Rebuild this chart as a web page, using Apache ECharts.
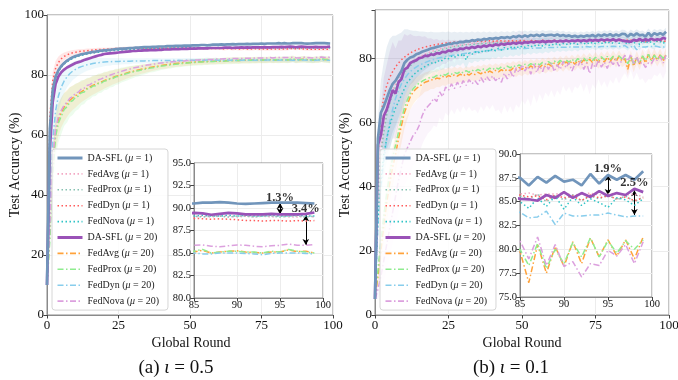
<!DOCTYPE html>
<html><head><meta charset="utf-8">
<script src="https://cdn.jsdelivr.net/npm/echarts@6/dist/echarts.min.js"></script>
<style>html,body{margin:0;padding:0;background:#fff}#c{width:678px;height:380px}</style>
</head><body><div id="c"></div>
<script>
// ---------- categories / labels ----------
const rounds = []; for (let i = 0; i < 100; i++) rounds.push(i);
const names = ['DA-SFL (μ = 1)','FedAvg (μ = 1)','FedProx (μ = 1)','FedDyn (μ = 1)','FedNova (μ = 1)',
               'DA-SFL (μ = 20)','FedAvg (μ = 20)','FedProx (μ = 20)','FedDyn (μ = 20)','FedNova (μ = 20)'];
const mainXTicks = [0, 25, 50, 75, 100];
const insetXTicks = [85, 90, 95, 100];
const captions = ['(a) ', ' = 0.5', '(b) ', ' = 0.1'];

// ---------- (a) iota = 0.5 ----------
const L_DA1 = [10,62,75,79.5,81.6,83.0,84.0,84.8,85.4,85.9,
86.3,86.6,86.9,87.1,87.3,87.5,87.7,87.8,88.0,88.1,
88.2,88.3,88.4,88.5,88.6,88.7,88.8,88.8,88.9,89.0,
89.0,89.1,89.1,89.2,89.3,89.3,89.3,89.4,89.4,89.5,
89.5,89.5,89.6,89.6,89.6,89.7,89.7,89.7,89.8,89.8,
89.8,89.9,89.9,89.9,90.0,90.0,89.9,90.0,90.1,90.1,
90.1,90.2,90.1,90.2,90.2,90.3,90.2,90.3,90.3,90.3,
90.4,90.3,90.4,90.4,90.4,90.5,90.4,90.5,90.5,90.5,
90.5,90.6,90.5,90.6,90.5,90.5,90.6,90.6,90.65,90.6,
90.5,90.45,90.5,90.55,90.6,90.6,90.6,90.6,90.55,90.5];
const L_Avg1 = [10,60,74,79,81.3,82.7,83.7,84.5,85.1,85.6,
86.0,86.3,86.6,86.8,87.0,87.2,87.4,87.5,87.7,87.8,
87.9,88.0,88.1,88.2,88.3,88.3,88.4,88.4,88.5,88.5,
88.6,88.6,88.6,88.7,88.7,88.7,88.8,88.8,88.8,88.8,
88.9,88.9,88.9,88.9,88.9,89.0,88.9,89.0,89.0,89.0,
89.0,89.0,89.1,89.0,89.0,89.1,89.0,89.1,89.1,89.0,
89.1,89.0,89.1,89.1,89.0,89.1,89.1,89.0,89.1,89.1,
89.1,89.0,89.1,89.1,89.1,89.0,89.1,89.1,89.0,89.1,
89.1,89.1,89.0,89.1,89.1,89.0,89.1,89.0,89.1,89.1,
89.0,89.1,89.0,89.1,89.0,89.1,89.0,89.0,89.1,89.0];
const L_Prox1 = [10,61,74.5,79.2,81.4,82.8,83.8,84.6,85.2,85.7,
86.1,86.4,86.7,86.9,87.1,87.3,87.4,87.6,87.7,87.9,
88.0,88.1,88.2,88.2,88.3,88.4,88.4,88.5,88.5,88.6,
88.6,88.7,88.7,88.7,88.8,88.8,88.8,88.9,88.9,88.9,
88.9,88.9,89.0,88.9,89.0,89.0,89.0,89.0,89.1,89.0,
89.1,89.0,89.1,89.1,89.0,89.1,89.1,89.1,89.0,89.1,
89.1,89.1,89.0,89.1,89.2,89.1,89.1,89.1,89.2,89.1,
89.1,89.2,89.1,89.1,89.2,89.1,89.1,89.2,89.1,89.1,
89.2,89.1,89.1,89.2,89.1,89.1,89.0,89.1,89.1,89.0,
89.1,89.1,89.0,89.1,89.1,89.0,89.1,89.1,89.0,89.1];
const L_Dyn1 = [10,66,78,82.2,84.2,85.4,86.2,86.7,87.1,87.4,
87.6,87.8,87.9,88.0,88.1,88.2,88.3,88.4,88.5,88.5,
88.6,88.6,88.7,88.7,88.8,88.8,88.8,88.9,88.9,88.9,
88.9,89.0,88.9,89.0,88.9,89.0,88.9,88.9,89.0,88.9,
88.9,88.9,88.9,89.0,88.9,88.9,88.8,88.9,88.9,88.8,
88.9,88.8,88.8,88.9,88.8,88.8,88.8,88.9,88.8,88.8,
88.8,88.8,88.7,88.8,88.8,88.7,88.8,88.7,88.7,88.8,
88.7,88.7,88.7,88.8,88.7,88.7,88.7,88.6,88.7,88.7,
88.7,88.7,88.6,88.7,88.7,88.85,88.8,88.75,88.8,88.75,
88.7,88.6,88.6,88.55,88.6,88.6,88.55,88.6,88.55,88.6];
const L_Nova1 = [10,59,73.5,78.8,81.1,82.6,83.6,84.4,85.0,85.5,
85.9,86.3,86.5,86.8,87.0,87.2,87.3,87.5,87.6,87.8,
87.9,88.0,88.1,88.2,88.2,88.3,88.4,88.4,88.5,88.5,
88.6,88.6,88.7,88.7,88.7,88.8,88.8,88.8,88.9,88.9,
88.9,88.9,88.9,89.0,89.0,89.0,89.0,89.0,89.1,89.0,
89.1,89.1,89.0,89.1,89.1,89.1,89.1,89.2,89.1,89.1,
89.2,89.1,89.1,89.2,89.1,89.2,89.2,89.1,89.2,89.2,
89.1,89.2,89.2,89.2,89.1,89.2,89.2,89.2,89.1,89.2,
89.2,89.2,89.1,89.2,89.2,89.1,89.2,89.1,89.1,89.2,
89.1,89.2,89.1,89.1,89.2,89.1,89.1,89.2,89.1,89.1];
const L_DA20 = [10,55,71,77,79.5,80.9,81.8,82.5,83.0,83.5,
84.0,84.3,84.6,85.0,85.3,85.6,85.9,86.2,86.5,86.7,
87.0,87.1,87.2,87.3,87.4,87.5,87.6,87.7,87.8,87.9,
88.0,88.0,88.1,88.1,88.2,88.2,88.3,88.3,88.3,88.4,
88.4,88.5,88.5,88.5,88.6,88.6,88.6,88.7,88.7,88.7,
88.8,88.8,88.8,88.9,88.9,88.9,88.9,89.0,89.0,89.0,
89.0,89.0,89.1,89.1,89.1,89.0,89.1,89.1,89.2,89.1,
89.2,89.1,89.2,89.2,89.2,89.2,89.3,89.2,89.2,89.3,
89.3,89.3,89.4,89.3,89.4,89.45,89.4,89.25,89.35,89.45,
89.4,89.3,89.3,89.3,89.35,89.3,89.3,89.3,89.35,89.5];
const L_Avg20 = [10,28,50,61,65.2,67.6,69.3,70.5,71.6,72.4,
73.1,73.8,74.4,75.0,75.5,76.0,76.5,76.9,77.3,77.7,
78.1,78.5,78.8,79.2,79.5,79.8,80.1,80.4,80.7,81.0,
81.2,81.5,81.7,81.9,82.1,82.3,82.5,82.7,82.9,83.0,
83.2,83.3,83.4,83.6,83.7,83.8,83.9,84.0,84.1,84.1,
84.2,84.3,84.3,84.4,84.4,84.5,84.5,84.6,84.6,84.6,
84.7,84.7,84.7,84.8,84.8,84.8,84.9,84.8,84.9,84.9,
84.9,84.9,85.0,84.9,85.0,85.0,85.0,85.0,85.1,85.0,
85.0,85.1,85.0,85.1,85.1,85.1,85.3,85.0,85.1,85.2,
85.25,85.1,85.05,85.0,85.1,85.1,85.35,85.15,85.2,85.0];
const L_Prox20 = [10,25,47,59.5,64.0,66.3,68.5,69.4,71.0,71.5,
72.6,73.0,74.1,74.3,75.3,75.5,76.3,76.4,77.2,77.3,
78.0,78.1,78.7,78.8,79.4,79.5,80.0,80.2,80.5,80.8,
81.0,81.3,81.4,81.7,81.9,82.0,82.3,82.4,82.6,82.8,
83.0,83.1,83.3,83.3,83.5,83.6,83.7,83.8,83.9,84.0,
84.1,84.1,84.2,84.3,84.3,84.4,84.4,84.5,84.5,84.6,
84.6,84.6,84.7,84.7,84.7,84.8,84.8,84.8,84.9,84.9,
84.9,84.9,84.9,85.0,85.0,85.0,85.0,85.0,85.1,85.0,
85.1,85.0,85.1,85.1,85.0,85.2,85.4,85.0,85.1,85.2,
85.2,85.1,85.1,85.0,85.2,85.1,85.4,85.2,85.1,85.0];
const L_Dyn20 = [10,35,58,68,73,76,78,79.4,80.5,81.3,
81.9,82.4,82.8,83.1,83.4,83.6,83.8,84.0,84.1,84.2,
84.3,84.4,84.4,84.5,84.5,84.5,84.6,84.6,84.6,84.6,
84.7,84.7,84.7,84.7,84.7,84.8,84.7,84.8,84.8,84.8,
84.8,84.8,84.8,84.8,84.9,84.8,84.9,84.8,84.9,84.9,
84.9,84.9,84.9,84.9,84.9,84.9,85.0,84.9,84.9,85.0,
84.9,85.0,84.9,85.0,84.9,85.0,84.9,85.0,84.9,85.0,
85.0,84.9,85.0,84.9,85.0,85.0,84.9,85.0,85.0,84.9,
85.0,84.9,85.0,85.0,84.9,85.0,84.9,84.9,85.0,85.0,
85.0,84.95,84.9,84.8,84.95,85.0,85.0,85.0,84.95,84.9];
const L_Nova20 = [10,30,52,62,66.3,68.2,70.0,70.9,72.3,72.8,
74.0,74.3,75.3,75.6,76.5,76.8,77.4,77.8,78.4,78.7,
79.2,79.5,79.9,80.3,80.6,80.9,81.2,81.5,81.8,82.0,
82.3,82.5,82.7,82.9,83.1,83.3,83.4,83.6,83.7,83.9,
84.0,84.1,84.2,84.3,84.4,84.5,84.6,84.6,84.7,84.8,
84.8,84.9,85.0,85.0,85.1,85.1,85.2,85.2,85.2,85.3,
85.3,85.3,85.4,85.4,85.4,85.5,85.5,85.5,85.5,85.6,
85.6,85.6,85.6,85.7,85.7,85.7,85.7,85.7,85.8,85.7,
85.8,85.8,85.8,85.8,85.8,85.85,85.9,85.75,85.7,85.8,
85.9,85.85,85.75,85.7,85.8,85.85,86.0,85.85,85.85,85.95];
// std bands (a)
const L_std_Prox20 = [0,5,7,7,6.5,6,5.5,5.2,5,4.8,
4.6,4.4,4.2,4,3.8,3.6,3.5,3.4,3.3,3.2,
3.1,3,2.9,2.8,2.7,2.6,2.5,2.4,2.3,2.2,
2.1,2,1.9,1.8,1.7,1.6,1.5,1.5,1.4,1.4,
1.3,1.3,1.2,1.2,1.2,1.1,1.1,1.1,1.1,1.1,
1.1,1.1,1.1,1.1,1.1,1.1,1.1,1.1,1.1,1.1,
1.1,1.1,1.1,1.1,1.1,1.1,1.1,1.1,1.1,1.1,
1.1,1.1,1.1,1.1,1.1,1.1,1.1,1.1,1.1,1.1,
1.1,1.1,1.1,1.1,1.1,1.1,1.1,1.1,1.1,1.1,
1.1,1.1,1.1,1.1,1.1,1.1,1.1,1.1,1.1,1.1];
const L_std_Avg20 = [0,4,6,6,5.5,5,4.8,4.5,4.3,4.1,
3.9,3.7,3.5,3.4,3.3,3.2,3.1,3,2.9,2.8,
2.7,2.6,2.5,2.4,2.3,2.2,2.1,2,1.9,1.8,
1.7,1.6,1.6,1.5,1.5,1.4,1.4,1.3,1.3,1.2,
1.2,1.2,1.2,1.1,1.1,1.1,1.1,1.1,1.1,1.0,
1.0,1.0,1.0,1.0,1.0,1.0,1.0,1.0,1.0,1.0,
1.0,1.0,1.0,1.0,1.0,1.0,1.0,1.0,1.0,1.0,
1.0,1.0,1.0,1.0,1.0,1.0,1.0,1.0,1.0,1.0,
1.0,1.0,1.0,1.0,1.0,1.0,1.0,1.0,1.0,1.0,
1.0,1.0,1.0,1.0,1.0,1.0,1.0,1.0,1.0,1.0];
const L_std_Dyn1 = [0,4,3,2.5,2,1.6,1.3,1.1,1,0.9,
0.8,0.8,0.7,0.7,0.7,0.6,0.6,0.6,0.6,0.6,
0.5,0.5,0.5,0.5,0.5,0.5,0.5,0.5,0.5,0.5,
0.5,0.5,0.5,0.5,0.5,0.5,0.5,0.5,0.5,0.5,
0.5,0.5,0.5,0.5,0.5,0.5,0.5,0.5,0.5,0.5,
0.5,0.5,0.5,0.5,0.5,0.5,0.5,0.5,0.5,0.5,
0.5,0.5,0.5,0.5,0.5,0.5,0.5,0.5,0.5,0.5,
0.5,0.5,0.5,0.5,0.5,0.5,0.5,0.5,0.5,0.5,
0.5,0.5,0.5,0.5,0.5,0.5,0.5,0.5,0.5,0.5,
0.5,0.5,0.5,0.5,0.5,0.5,0.5,0.5,0.5,0.5];
const L_std_Dyn20 = [0,8,7,6,5,4.5,4,3.6,3.3,3,
2.8,2.6,2.4,2.2,2,1.9,1.8,1.7,1.6,1.5,
1.4,1.3,1.3,1.2,1.2,1.1,1.1,1,1,1,
0.9,0.9,0.9,0.9,0.9,0.9,0.9,0.9,0.9,0.9,
0.8,0.8,0.8,0.8,0.8,0.8,0.8,0.8,0.8,0.8,
0.8,0.8,0.8,0.8,0.8,0.8,0.8,0.8,0.8,0.8,
0.7,0.7,0.7,0.7,0.7,0.7,0.7,0.7,0.7,0.7,
0.7,0.7,0.7,0.7,0.7,0.7,0.7,0.7,0.7,0.7,
0.7,0.7,0.7,0.7,0.7,0.7,0.7,0.7,0.7,0.7,
0.7,0.7,0.7,0.7,0.7,0.7,0.7,0.7,0.7,0.7];

// ---------- (b) iota = 0.1 ----------
const R_DA1 = [5,55,63,65,67.5,70,72,73,74.5,76,
78.5,79.5,80.2,80.5,81.2,81.5,82.0,82.3,82.6,83.0,
83.2,83.5,83.7,84.0,84.1,84.5,84.4,84.8,84.7,85.1,
85.0,85.3,85.2,85.6,85.4,85.8,85.6,86.0,85.8,86.2,
86.0,86.3,86.1,86.5,86.3,86.6,86.3,86.8,86.5,87.0,
86.6,87.1,86.7,87.2,86.9,87.3,86.9,87.4,87.0,87.2,
87.3,87.0,87.4,86.9,87.2,86.8,87.1,86.7,87.0,86.6,
87.0,86.7,87.1,86.8,87.2,86.7,87.3,86.9,87.4,87.0,
87.5,86.9,87.4,87.0,87.6,87.5,86.7,87.6,87.0,87.7,
87.1,87.3,86.7,87.9,86.9,87.8,87.3,87.8,87.3,88.2];
const R_Avg1 = [5,40,52,59,64,67.5,70,72,73.8,75.2,
76.4,77.4,78.3,79.0,79.7,80.3,80.8,81.2,81.6,82.0,
82.3,82.6,82.9,83.1,83.3,83.5,83.7,83.8,84.0,84.1,
84.2,84.4,84.3,84.6,84.5,84.7,84.6,84.9,84.7,85.0,
84.8,85.1,84.9,85.2,85.0,85.2,85.0,85.3,85.1,85.3,
85.1,85.4,85.2,85.4,85.2,85.5,85.3,85.5,85.3,85.6,
85.3,85.6,85.4,85.6,85.4,85.7,85.4,85.7,85.5,85.7,
85.5,85.8,85.5,85.8,85.5,85.8,85.6,85.8,85.6,85.9,
85.6,85.9,85.6,85.9,85.7,85.8,85.9,85.7,85.8,85.8,
85.9,85.7,85.8,85.9,85.7,85.8,85.9,85.7,85.8,85.5];
const R_Prox1 = [5,38,50,57,62.5,66,68.8,71,72.8,74.3,
75.6,76.7,77.6,78.4,79.1,79.7,80.3,80.7,81.2,81.6,
81.9,82.2,82.5,82.8,83.0,83.2,83.4,83.6,83.7,83.9,
84.0,84.2,84.1,84.4,84.3,84.5,84.4,84.7,84.5,84.8,
84.6,84.9,84.7,85.0,84.8,85.0,84.9,85.1,84.9,85.2,
85.0,85.2,85.0,85.3,85.1,85.3,85.1,85.4,85.2,85.4,
85.2,85.4,85.2,85.5,85.3,85.5,85.3,85.5,85.3,85.6,
85.3,85.6,85.4,85.6,85.4,85.7,85.4,85.7,85.5,85.7,
85.5,85.7,85.5,85.8,85.5,85.6,85.3,85.8,85.0,85.6,
85.2,85.7,85.1,85.6,85.3,85.7,85.2,85.6,85.0,85.5];
const R_Dyn1 = [5,50,62,68,71.5,74,75.8,77.3,78.5,79.5,
80.3,81.0,81.6,82.1,82.5,82.9,83.2,83.5,83.7,83.9,
84.1,84.3,84.4,84.6,84.7,84.8,84.9,85.0,85.0,85.1,
85.1,85.2,85.0,85.3,85.1,85.3,85.1,85.4,85.2,85.4,
85.2,85.5,85.2,85.4,85.3,85.5,85.2,85.5,85.3,85.6,
85.3,85.5,85.2,85.6,85.3,85.5,85.2,85.6,85.3,85.5,
85.4,85.6,85.3,85.5,85.2,85.6,85.3,85.5,85.4,85.6,
85.3,85.5,85.2,85.6,85.3,85.5,85.3,85.6,85.2,85.5,
85.3,85.6,85.4,85.5,85.3,85.7,85.5,85.6,85.2,85.7,
85.4,85.6,85.1,85.7,85.4,85.6,85.3,85.5,85.1,85.4];
const R_Nova1 = [5,30,42,50,55,59,62,64.5,66.5,68.5,
70.5,72.5,73.5,74.8,75.5,76.3,76.8,77.4,77.9,78.3,
78.8,78.5,79.5,79.2,80.1,79.8,80.6,80.2,81.0,80.6,
81.4,79.5,81.6,81.2,82.0,81.5,82.3,81.8,82.6,82.1,
82.9,82.3,83.1,82.5,83.3,82.8,83.5,83.0,83.7,83.2,
83.8,83.4,84.0,83.5,84.1,83.7,84.2,83.8,84.4,83.9,
84.4,84.0,84.6,84.1,84.6,84.2,84.7,84.3,84.8,84.3,
84.8,84.4,84.9,84.4,85.0,84.5,85.0,84.5,85.1,84.6,
85.1,84.6,85.2,84.6,85.2,85.0,84.3,85.4,84.5,85.6,
84.2,85.5,84.6,85.3,84.9,84.4,85.4,85.2,84.6,85.3];
const R_DA20 = [5,53,56,62,64,67,70,69,72.5,73.5,
76.5,77.0,78.5,79.0,79.3,80.0,80.2,80.8,80.6,81.2,
81.0,81.6,81.4,82.0,81.8,82.4,82.2,82.7,82.5,83.0,
82.8,83.3,83.0,83.5,83.2,83.7,83.4,83.9,83.6,84.1,
83.8,84.3,84.0,84.5,84.2,84.6,84.4,84.8,84.5,84.9,
84.6,85.0,84.8,85.1,84.9,85.2,85.0,85.3,85.0,85.3,
85.1,85.4,85.1,85.4,85.2,85.5,85.2,85.5,85.3,85.6,
85.3,85.6,85.3,85.7,85.4,85.7,85.4,85.8,85.5,85.8,
85.5,85.9,85.4,85.8,85.5,85.3,85.25,85.1,85.7,85.4,
86.0,85.4,85.9,85.5,86.1,85.6,85.9,85.7,86.35,86.0];
const R_Avg20 = [5,12,20,28,35,41,46,50,55,59,
63,65.5,68,69.5,70.5,71.2,71.8,72.5,72.8,73.3,
73.2,73.8,73.6,74.3,73.9,74.6,74.2,74.8,74.4,75.0,
74.4,75.2,74.7,75.4,74.9,75.6,75.1,75.8,75.3,76.0,
75.5,76.2,75.7,76.4,75.9,76.6,76.1,76.9,76.3,77.1,
76.5,77.3,76.7,77.6,76.9,77.8,77.1,78.0,77.3,78.2,
77.5,78.5,77.6,78.7,77.8,78.9,78.0,79.1,78.1,79.3,
78.3,79.5,78.4,79.7,78.6,79.9,78.7,80.1,78.8,80.3,
78.9,80.5,79.0,80.6,79.1,79.8,76.5,80.5,77.5,80.3,
78.2,80.8,78.5,81.2,79.2,81.0,79.3,81.0,79.0,81.3];
const R_Prox20 = [5,14,23,31,38,44,49,53,57,61,
64.5,67,69,70.5,71.5,72.2,72.8,73.3,73.7,74.1,
74.0,74.6,74.4,75.0,74.7,75.3,75.0,75.6,75.2,75.9,
75.4,76.1,75.6,76.3,75.8,76.5,76.0,76.7,76.2,76.9,
76.4,77.1,76.6,77.3,76.8,77.5,77.0,77.7,77.2,77.9,
77.4,78.1,77.6,78.3,77.8,78.5,77.9,78.7,78.1,78.9,
78.2,79.1,78.4,79.3,78.5,79.5,78.7,79.7,78.8,79.9,
79.0,80.0,79.1,80.2,79.3,80.3,79.4,80.4,79.5,80.5,
79.6,80.6,79.7,80.7,79.8,80.0,78.3,80.6,78.0,80.0,
78.5,80.7,79.2,81.2,79.2,80.9,79.6,80.9,80.0,81.0];
const R_Dyn20 = [5,28,40,48,55,60,64,67.5,70,72,
73.5,74.8,75.8,76.6,77.2,77.8,78.2,78.6,79.0,79.3,
79.6,79.9,80.1,80.3,80.5,80.7,80.8,81.0,81.1,81.3,
81.4,81.5,81.6,81.7,81.9,82.0,82.1,82.2,82.3,82.4,
82.5,82.5,82.6,82.7,82.7,82.8,82.8,82.9,82.9,83.0,
83.0,83.0,83.1,83.1,83.1,83.2,83.2,83.2,83.3,83.3,
83.3,83.3,83.4,83.4,83.4,83.4,83.5,83.4,83.5,83.5,
83.5,83.5,83.6,83.5,83.6,83.6,83.5,83.6,83.6,83.6,
83.6,83.7,83.6,83.6,83.7,83.9,83.3,83.4,84.0,82.6,
83.8,83.5,83.5,83.6,83.6,83.8,83.6,83.4,83.5,83.5];
const R_Nova20 = [5,8,12,17,22,27,32,37,42,46,
50,52,54,56,57,59,62,64,65,66,
67.5,66.5,69.5,68,71,70,72,70.5,72.5,71,
73,71.5,73.3,72,73,71.8,74,72.5,74.3,73,
74.5,73,74,72.5,75.3,73.5,76,74,77,75.5,
78,76,77.5,75,78.2,75.5,77.8,75.8,78.3,76.5,
78.5,75.8,78,76.5,79,77,78.6,76,78.2,77.5,
79.2,76.5,78.5,75.2,78.4,77,79.4,77.2,78.8,76.8,
79.3,78.0,79.6,77.5,79.5,80.9,79.0,81.3,78.3,80.5,
78.2,78.7,77.1,78.5,78.3,79.9,79.3,80.5,78.5,80.8];
// std bands (b)
const R_std_DA1 = [0,6,10,14,16,16,15,14,13,12,
10.5,9.5,8.5,8,7.3,6.8,6.3,5.9,5.5,5.2,
4.9,4.6,4.4,4.2,4,3.8,3.6,3.4,3.3,3.1,
3,2.9,2.8,2.7,2.6,2.5,2.4,2.3,2.2,2.1,
2,2,1.9,1.9,1.8,1.8,1.7,1.7,1.6,1.6,
1.6,1.5,1.5,1.5,1.5,1.4,1.4,1.4,1.4,1.4,
1.4,1.3,1.3,1.3,1.3,1.3,1.3,1.3,1.3,1.3,
1.3,1.3,1.3,1.3,1.3,1.3,1.3,1.3,1.3,1.3,
1.3,1.3,1.3,1.3,1.3,1.3,1.3,1.3,1.3,1.3,
1.3,1.3,1.3,1.3,1.3,1.3,1.3,1.3,1.3,1.3];
const R_std_DA20 = [0,5,8,12,14,15,15,14,13,12,
11,10,9,8,7.5,7,6.5,6,5.5,5,
4.7,4.4,4.1,3.8,3.6,3.4,3.2,3,2.9,2.8,
2.7,2.6,2.5,2.4,2.3,2.2,2.1,2,2,1.9,
1.9,1.8,1.8,1.7,1.7,1.6,1.6,1.5,1.5,1.5,
1.4,1.4,1.4,1.4,1.4,1.3,1.3,1.3,1.3,1.3,
1.3,1.3,1.3,1.2,1.2,1.2,1.2,1.2,1.2,1.2,
1.2,1.2,1.2,1.2,1.2,1.2,1.2,1.2,1.2,1.2,
1.2,1.2,1.2,1.2,1.2,1.2,1.2,1.2,1.2,1.2,
1.2,1.2,1.2,1.2,1.2,1.2,1.2,1.2,1.2,1.2];
const R_std_Nova20 = [0,3,5,7,8,9,10,10,10,10,
10,10,10,9.5,9.5,9,9,9,8.5,8.5,
8.5,8,8,8,8,8,8,8,8,8,
8,8,8.5,8.5,9,9,9,9,9,9,
9,9.5,10,10,10,10.5,11,11,11.5,11,
11,10.5,10,10,9.5,9.5,9,9,9,8.5,
8.5,8,8,8,7.5,7.5,7.5,7,7,7,
7,7,6.5,6.5,6.5,6.5,6,6,6,6,
6,6,5.5,5.5,5.5,5.5,5.5,5,5,5,
5,5,5,5,5,5,5,5,5,5];
const R_std_Avg20 = [0,3,4,5,6,6,6,6,5.5,5.5,
5,4.5,4,3.8,3.6,3.4,3.2,3,3,2.9,
2.8,2.8,2.7,2.7,2.6,2.6,2.5,2.5,2.4,2.4,
2.3,2.3,2.3,2.3,2.3,2.3,2.3,2.3,2.3,2.3,
2.2,2.2,2.2,2.2,2.2,2.2,2.2,2.2,2.2,2.2,
2.1,2.1,2.1,2.1,2.1,2.1,2.1,2.1,2.1,2.1,
2,2,2,2,2,2,2,2,2,2,
2,2,2,2,2,2,2,2,2,2,
1.9,1.9,1.9,1.9,1.9,1.9,1.9,1.9,1.9,1.9,
1.9,1.9,1.9,1.9,1.9,1.9,1.9,1.9,1.9,1.9];
const R_std_Nova1 = [0,4,6,7,7.5,7.5,7,6.5,6,5.5,
5,4.7,4.4,4.1,3.9,3.7,3.5,3.3,3.2,3.1,
3,3,3,3,3,3,3,3,3,3,
2.8,2.8,2.8,2.8,2.8,2.8,2.8,2.8,2.8,2.8,
2.6,2.6,2.6,2.6,2.6,2.6,2.6,2.6,2.6,2.6,
2.4,2.4,2.4,2.4,2.4,2.4,2.4,2.4,2.4,2.4,
2.2,2.2,2.2,2.2,2.2,2.2,2.2,2.2,2.2,2.2,
2,2,2,2,2,2,2,2,2,2,
2,2,2,2,2,2,2,2,2,2,
1.8,1.8,1.8,1.8,1.8,1.8,1.8,1.8,1.8,1.8];

// annotations: [label, x, textY, arrowFromY, arrowToY]
const L_annot = [['1.3%', 95, 91.1, 90.55, 89.3], ['3.4%', 98, 89.9, 89.2, 85.9]];
const R_annot = [['1.9%', 95, 88.5, 87.8, 85.7], ['2.5%', 98, 87.0, 86.2, 83.6]];

// ---------- styling ----------
const FONT = '"Liberation Serif","Times New Roman",serif';
const colors = ['#7195bb','#f3a8c4','#86c1b1','#ff5c5c','#2fc4c6','#9a52b7','#ffa23a','#8fec8f','#88cdec','#dca0de'];
const widths = [2.7,1.5,1.5,1.5,1.5,2.7,1.5,1.5,1.5,1.5];
const DOT = [1.5, 2.5], DASHDOT = [6, 2.5, 1.5, 2.5];
const dashes = ['solid',DOT,DOT,DOT,DOT,'solid',DASHDOT,DASHDOT,DASHDOT,DASHDOT];
const drawOrder = [6,7,8,9,1,2,3,4,5,0];

function lineSeries(data, xi, yi, z) {
  return drawOrder.map(k => ({
    type: 'line', name: names[k], xAxisIndex: xi, yAxisIndex: yi,
    data: rounds.map((r, i) => [r, data[k][i]]),
    symbol: 'none', showSymbol: false, clip: true, z: z, silent: true,
    lineStyle: { color: colors[k], width: widths[k], type: dashes[k], cap: 'butt' },
    itemStyle: { color: colors[k] }, emphasis: { disabled: true }
  }));
}
function bandSeries(k, mean, std, xi, yi, op) {
  return {
    type: 'custom', xAxisIndex: xi, yAxisIndex: yi, silent: true, z: 1, clip: true,
    data: [[0, 0]],
    renderItem: function (params, api) {
      const up = rounds.map((r, i) => api.coord([r, mean[i] + std[i]]));
      const lo = rounds.map((r, i) => api.coord([r, mean[i] - std[i]])).reverse();
      return { type: 'polygon', shape: { points: up.concat(lo) },
               style: { fill: colors[k], opacity: op, stroke: null } };
    }
  };
}
function annotSeries(ann, xi, yi) {
  return {
    type: 'scatter', xAxisIndex: xi, yAxisIndex: yi, z: 8, silent: true,
    data: ann.map(a => [a[1], a[2], a[0]]), symbolSize: 1,
    itemStyle: { color: 'rgba(0,0,0,0)' },
    label: { show: true, position: 'inside', formatter: p => p.data[2],
             fontFamily: FONT, fontSize: 12.5, fontWeight: 'bold', color: '#000' },
    markLine: { silent: true, symbol: ['arrow', 'arrow'], symbolSize: [5, 6],
      lineStyle: { color: '#000', width: 1, type: 'solid' }, label: { show: false },
      data: ann.map(a => [{ coord: [a[1], a[3]] }, { coord: [a[1], a[4]] }]) }
  };
}
function axisCommon(fs, z) {
  return {
    axisLine: { show: true, lineStyle: { color: '#8a8a8a', width: 1 } },
    axisTick: { show: true, length: 3.5, lineStyle: { color: '#444', width: 1 } },
    splitLine: { show: true, lineStyle: { color: '#ececec', width: 1 } },
    axisLabel: { fontFamily: FONT, fontSize: fs, color: '#111' },
    z: z
  };
}
function xAx(gi, min, max, interval, fs, z, margin) {
  const a = axisCommon(fs, z);
  return Object.assign(a, { type: 'value', gridIndex: gi, min, max, interval,
    axisLabel: Object.assign(a.axisLabel, { margin }) });
}
function yAx(gi, min, max, interval, fs, z, fmt) {
  const a = axisCommon(fs, z);
  return Object.assign(a, { type: 'value', gridIndex: gi, min, max, interval,
    axisLabel: Object.assign(a.axisLabel, { margin: 3, formatter: fmt }) });
}
function legendCfg(left) {
  return {
    left: left, top: 149, orient: 'vertical', z: 10,
    backgroundColor: 'rgba(255,255,255,0.82)', borderColor: '#d6d6d6', borderWidth: 1, borderRadius: 3,
    padding: [2, 9, 2, 4], itemWidth: 25, itemHeight: 10, itemGap: 1.9, selectedMode: false,
    itemStyle: { color: 'rgba(0,0,0,0)', borderColor: 'rgba(0,0,0,0)', borderWidth: 0, opacity: 0 },
    data: names.map((n, k) => ({ name: n, lineStyle: { width: k % 5 === 0 ? 3 : 1.6 } })),
    formatter: n => n.replace('μ', '{i|μ}'),
    textStyle: { fontFamily: FONT, fontSize: 10, color: '#222', lineHeight: 14,
      rich: { i: { fontFamily: FONT, fontSize: 10, fontStyle: 'italic', color: '#222', lineHeight: 14 } } }
  };
}

const L = [L_DA1, L_Avg1, L_Prox1, L_Dyn1, L_Nova1, L_DA20, L_Avg20, L_Prox20, L_Dyn20, L_Nova20];
const R = [R_DA1, R_Avg1, R_Prox1, R_Dyn1, R_Nova1, R_DA20, R_Avg20, R_Prox20, R_Dyn20, R_Nova20];

const series = [].concat(
  bandSeries(7, L_Prox20, L_std_Prox20, 0, 0, 0.16),
  bandSeries(6, L_Avg20, L_std_Avg20, 0, 0, 0.14),
  bandSeries(3, L_Dyn1, L_std_Dyn1, 0, 0, 0.15),
  bandSeries(8, L_Dyn20, L_std_Dyn20, 0, 0, 0.15),
  lineSeries(L, 0, 0, 2),
  lineSeries(L, 1, 1, 5),
  annotSeries(L_annot, 1, 1),
  bandSeries(0, R_DA1, R_std_DA1, 2, 2, 0.16),
  bandSeries(5, R_DA20, R_std_DA20, 2, 2, 0.12),
  bandSeries(9, R_Nova20, R_std_Nova20, 2, 2, 0.1),
  bandSeries(6, R_Avg20, R_std_Avg20, 2, 2, 0.13),
  bandSeries(4, R_Nova1, R_std_Nova1, 2, 2, 0.12),
  lineSeries(R, 2, 2, 2),
  lineSeries(R, 3, 3, 5),
  annotSeries(R_annot, 3, 3)
);

const gridBase = { show: true, borderColor: '#8a8a8a', borderWidth: 1, containLabel: false, outerBoundsMode: 'none' };
const option = {
  animation: false,
  textStyle: { fontFamily: FONT },
  grid: [
    Object.assign({}, gridBase, { left: 47, right: 345, top: 15, bottom: 65, backgroundColor: '#fff', z: 0 }),
    Object.assign({}, gridBase, { left: 194, right: 355, top: 163, bottom: 82, backgroundColor: '#fff', z: 3 }),
    Object.assign({}, gridBase, { left: 375, right: 9, top: 10, bottom: 65, backgroundColor: '#fff', z: 0 }),
    Object.assign({}, gridBase, { left: 520, right: 26, top: 154, bottom: 83, backgroundColor: '#fff', z: 3 })
  ],
  xAxis: [
    xAx(0, mainXTicks[0], mainXTicks[4], mainXTicks[1] - mainXTicks[0], 13, 0, 4),
    xAx(1, insetXTicks[0], insetXTicks[3], insetXTicks[1] - insetXTicks[0], 10.5, 4, 2),
    xAx(2, mainXTicks[0], mainXTicks[4], mainXTicks[1] - mainXTicks[0], 13, 0, 4),
    xAx(3, insetXTicks[0], insetXTicks[3], insetXTicks[1] - insetXTicks[0], 10.5, 4, 2)
  ],
  yAxis: [
    yAx(0, 0, 100, 20, 13, 0, v => String(v)),
    yAx(1, 80, 95, 2.5, 10.5, 4, v => v.toFixed(1)),
    yAx(2, 0, 95, 20, 13, 0, v => (v > 90 ? '' : String(v))),
    yAx(3, 75, 90, 2.5, 10.5, 4, v => v.toFixed(1))
  ],
  legend: [legendCfg(52), legendCfg(380)],
  graphic: [
    { type: 'text', x: 15, y: 165, rotation: Math.PI / 2, silent: true,
      style: { text: 'Test Accuracy (%)', font: '14px ' + FONT, fill: '#111', align: 'center', verticalAlign: 'middle' } },
    { type: 'text', x: 345, y: 165, rotation: Math.PI / 2, silent: true,
      style: { text: 'Test Accuracy (%)', font: '14px ' + FONT, fill: '#111', align: 'center', verticalAlign: 'middle' } },
    { type: 'text', x: 191, y: 343, silent: true,
      style: { text: 'Global Round', font: '14px ' + FONT, fill: '#111', align: 'center', verticalAlign: 'middle' } },
    { type: 'text', x: 522, y: 343, silent: true,
      style: { text: 'Global Round', font: '14px ' + FONT, fill: '#111', align: 'center', verticalAlign: 'middle' } },
    { type: 'text', x: 176, y: 368, silent: true,
      style: { text: captions[0] + '{i|ι}' + captions[1], font: '19px ' + FONT, fill: '#111', align: 'center', verticalAlign: 'middle',
        rich: { i: { fontStyle: 'italic', fontSize: 19, fontFamily: FONT } } } },
    { type: 'text', x: 511, y: 368, silent: true,
      style: { text: captions[2] + '{i|ι}' + captions[3], font: '19px ' + FONT, fill: '#111', align: 'center', verticalAlign: 'middle',
        rich: { i: { fontStyle: 'italic', fontSize: 19, fontFamily: FONT } } } }
  ],
  series: series
};
const chart = echarts.init(document.getElementById('c'), null, { renderer: 'canvas' });
chart.setOption(option);
</script></body></html>
